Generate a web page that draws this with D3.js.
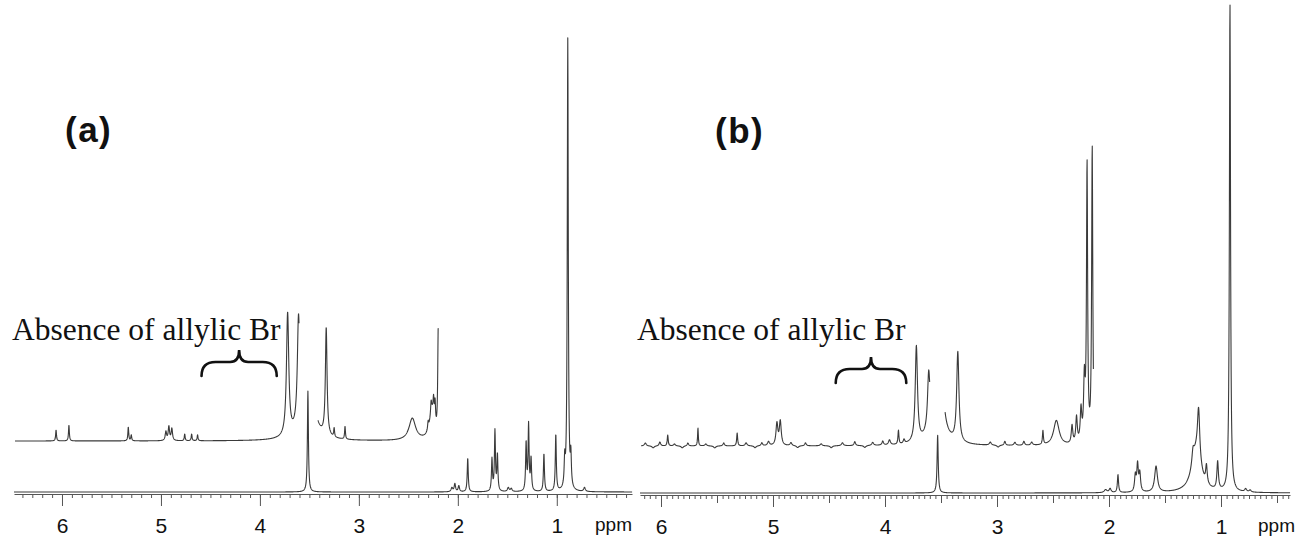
<!DOCTYPE html>
<html>
<head>
<meta charset="utf-8">
<script src="https://cdn.jsdelivr.net/npm/d3@7"></script>
<style>
    html, body { margin: 0; padding: 0; background: #fff; }
    svg { display: block; }
</style>
</head>
<body>
<svg id="chart" width="1298" height="538"></svg>
<script>
// ── data (ppm, height above baseline in px units, half width in ppm) ─────────
const panelNames   = ['(a)', '(b)'];
const annotation   = 'Absence of allylic Br';
const unitLabel    = 'ppm';
const majorTicks   = [6, 5, 4, 3, 2, 1];
const braceRangeA  = [4.59, 3.83];
const braceRangeB  = [4.44, 3.81];

// full spectrum, panel (a)
const peaksA = [
    [3.515, 101, 0.006],
    [2.06, 4, 0.010], [2.03, 8, 0.008], [1.99, 6, 0.008],
    [1.90, 34, 0.006],
    [1.655, 32, 0.006], [1.625, 60, 0.006], [1.60, 36, 0.006],
    [1.49, 4, 0.010], [1.46, 3, 0.010],
    [1.31, 48, 0.006], [1.285, 66, 0.006], [1.26, 32, 0.006],
    [1.13, 38, 0.006],
    [1.01, 57, 0.006],
    [0.92, 26, 0.006], [0.889, 452, 0.006], [0.858, 30, 0.006],
    [0.72, 4, 0.010]
];
// vertically expanded trace, panel (a)
const insetA = [
    [6.06, 11, 0.005], [5.93, 16, 0.005],
    [5.33, 14, 0.005], [5.30, 6, 0.005],
    [4.95, 9, 0.008], [4.92, 14, 0.008], [4.89, 12, 0.008],
    [4.76, 7, 0.005], [4.69, 7, 0.005], [4.63, 6, 0.005],
    [3.72, 123, 0.014], [3.61, 104, 0.014],
    [3.515, 3000, 0.008],
    [3.33, 108, 0.010], [3.25, 9, 0.005], [3.14, 13, 0.005],
    [2.46, 22, 0.040],
    [2.26, 28, 0.030], [2.30, 8, 0.006], [2.27, 12, 0.006], [2.245, 18, 0.006],
    [2.23, 22, 0.006], [2.198, 108, 0.006]
];
const insetGapA = [3.605, 3.414];

// full spectrum, panel (b)
const peaksB = [
    [3.53, 58, 0.006],
    [2.03, 3, 0.015], [1.99, 4, 0.010],
    [1.92, 18, 0.006],
    [1.765, 16, 0.008], [1.745, 27, 0.008], [1.725, 18, 0.008],
    [1.58, 26, 0.015],
    [1.25, 14, 0.012], [1.22, 40, 0.050], [1.20, 50, 0.012],
    [1.13, 18, 0.008],
    [1.03, 28, 0.008],
    [0.92, 490, 0.006],
    [0.78, 3, 0.010], [0.74, 2, 0.010]
];
// vertically expanded trace, panel (b)
const insetB = [
    [5.94, 11, 0.005], [5.67, 18, 0.004], [5.32, 13, 0.005],
    [4.965, 22, 0.010], [4.935, 24, 0.010],
    [3.88, 14, 0.005],
    [3.72, 96, 0.012], [3.61, 52, 0.012],
    [3.53, 760, 0.014],
    [3.35, 90, 0.012],
    [2.59, 14, 0.005], [2.47, 25, 0.030],
    [2.33, 18, 0.008], [2.29, 26, 0.008], [2.25, 32, 0.008], [2.22, 60, 0.008],
    [2.196, 276, 0.006], [2.15, 296, 0.006]
];
// small baseline wiggles of trace (b)
const wigglesB = [
    [6.14, 3, 0.010], [6.07, -2, 0.012], [6.01, 4, 0.008], [5.88, 2, 0.010],
    [5.81, -2, 0.012], [5.76, 3, 0.008], [5.60, 2, 0.010], [5.52, -2, 0.012],
    [5.44, 3, 0.008], [5.24, 3, 0.010], [5.16, -2, 0.012], [5.10, 3, 0.008],
    [5.04, 4, 0.010], [4.84, 3, 0.010], [4.78, -2, 0.012], [4.71, 3, 0.008],
    [4.57, 2, 0.010], [4.48, -2, 0.012], [4.38, 3, 0.010], [4.27, 4, 0.008],
    [4.18, -2, 0.012], [4.11, 3, 0.010], [4.02, 4, 0.008], [3.96, 5, 0.010],
    [3.83, 4, 0.008], [3.06, 3, 0.010], [2.99, -2, 0.012], [2.93, 4, 0.008],
    [2.84, 3, 0.010], [2.76, 4, 0.008], [2.69, 3, 0.010]
];
const insetGapB = [3.60, 3.464];

(function () {
    'use strict';

    const svg = d3.select('#chart');

    const panels = [
        {
            name: panelNames[0], peaks: peaksA, inset: insetA, gap: insetGapA, brace: braceRangeA,
            ppm: [6.485, 0.24], px: [14, 632], base: 492, axisY: 494, insetBase: 441,
            insetTo: 2.198, step: 0.1, mid: false,
            nameX: 65, nameY: 142, textX: 12, unitX: 595
        },
        {
            name: panelNames[1], peaks: peaksB, inset: insetB.concat(wigglesB), gap: insetGapB, brace: braceRangeB,
            ppm: [6.1875, 0.384], px: [640, 1290], base: 493, axisY: 495, insetBase: 446,
            insetTo: 2.14, step: 0.05, mid: true,
            nameX: 715, nameY: 143, textX: 637, unitX: 1258
        }
    ];

    // ── 谱线 ──────────────────────────────────────────────────────────────────
    function spectrum(peaks, from, to, step) {
        const pts = [];
        const n = Math.round((from - to) / step);
        for (let i = 0; i <= n; i++) {
            const p = from - i * step;
            let v = 0;
            for (const [c, h, w] of peaks) v += h * w * w / ((p - c) * (p - c) + w * w);
            pts.push([p, v]);
        }
        return pts;
    }

    function bracePath(x1, x2, yTip, yMid, yEnd) {
        const xc = (x1 + x2) / 2, r = yEnd - yMid, q = 9;
        return `M${x1},${yEnd} Q${x1},${yMid} ${x1 + r},${yMid} L${xc - q},${yMid}` +
               ` Q${xc},${yMid} ${xc},${yTip} Q${xc},${yMid} ${xc + q},${yMid}` +
               ` L${x2 - r},${yMid} Q${x2},${yMid} ${x2},${yEnd}`;
    }

    panels.forEach(P => {
        const x = d3.scaleLinear().domain(P.ppm).range(P.px);
        const y = d3.scaleLinear().domain([0, 500]).range([P.base, P.base - 500]);
        const yi = d3.scaleLinear().domain([0, 500]).range([P.insetBase, P.insetBase - 500]);
        const g = svg.append('g');

        // ── 坐标轴 ───────────────────────────────────────────────────────────
        const lo = Math.ceil(P.ppm[1] / P.step - 1e-6), hi = Math.floor(P.ppm[0] / P.step + 1e-6);
        const minor = d3.range(lo, hi + 1).map(i => +(i * P.step).toFixed(3));
        const mids = P.mid ? minor.filter(v => Math.abs(v * 2 - Math.round(v * 2)) < 1e-6 && v % 1 !== 0) : [];

        const axis = g.append('g').attr('transform', `translate(0,${P.axisY})`);
        axis.append('g')
            .call(d3.axisBottom(x).tickValues(minor).tickSize(4).tickFormat('').tickSizeOuter(0));
        if (mids.length) {
            axis.append('g')
                .call(d3.axisBottom(x).tickValues(mids).tickSize(8).tickFormat('').tickSizeOuter(0))
                .select('.domain').remove();
        }
        axis.append('g')
            .call(d3.axisBottom(x).tickValues(majorTicks).tickFormat(d3.format('d'))
                .tickSize(12).tickPadding(12).tickSizeOuter(0))
            .select('.domain').remove();
        axis.selectAll('path, line').attr('stroke', '#555').attr('stroke-width', 1);
        axis.selectAll('text')
            .attr('fill', '#111')
            .style('font-family', '"Liberation Sans", Arial, sans-serif')
            .style('font-size', '21px');

        g.append('text')
            .attr('x', P.unitX).attr('y', P.axisY + 37)
            .style('font-family', '"Liberation Sans", Arial, sans-serif')
            .style('font-size', '19px')
            .attr('fill', '#111')
            .text(unitLabel);

        // ── 谱线：全谱与放大谱 ────────────────────────────────────────────────
        const line = d3.line().x(d => x(d[0])).y(d => y(d[1]));
        g.append('path')
            .datum(spectrum(P.peaks, P.ppm[0], P.ppm[1], 0.002))
            .attr('d', line)
            .attr('fill', 'none')
            .attr('stroke', '#3a3a3a')
            .attr('stroke-width', 1.1)
            .attr('stroke-linejoin', 'round');

        const insetLine = d3.line()
            .defined(d => !(d[0] < P.gap[0] && d[0] > P.gap[1]))
            .x(d => x(d[0])).y(d => yi(d[1]));
        g.append('path')
            .datum(spectrum(P.inset, P.ppm[0] - 0.01, P.insetTo, 0.002))
            .attr('d', insetLine)
            .attr('fill', 'none')
            .attr('stroke', '#3a3a3a')
            .attr('stroke-width', 1.1)
            .attr('stroke-linejoin', 'round');

        // ── 标注 ─────────────────────────────────────────────────────────────
        g.append('text')
            .attr('x', P.nameX).attr('y', P.nameY)
            .style('font-family', '"Liberation Sans", Arial, sans-serif')
            .style('font-weight', 'bold')
            .style('font-size', '35px')
            .style('letter-spacing', '1.5px')
            .attr('fill', '#111')
            .text(P.name);

        g.append('text')
            .attr('x', P.textX).attr('y', 340)
            .style('font-family', '"Liberation Serif", "Times New Roman", serif')
            .style('font-size', '31.5px')
            .attr('fill', '#111')
            .text(annotation);

        const bx1 = x(P.brace[0]), bx2 = x(P.brace[1]);
        const tip = P.mid ? 357 : 350;
        g.append('path')
            .attr('d', bracePath(bx1, bx2, tip, tip + 12, tip + 26))
            .attr('fill', 'none')
            .attr('stroke', '#111')
            .attr('stroke-width', 2.6)
            .attr('stroke-linecap', 'round');
    });
})();
</script>
</body>
</html>
